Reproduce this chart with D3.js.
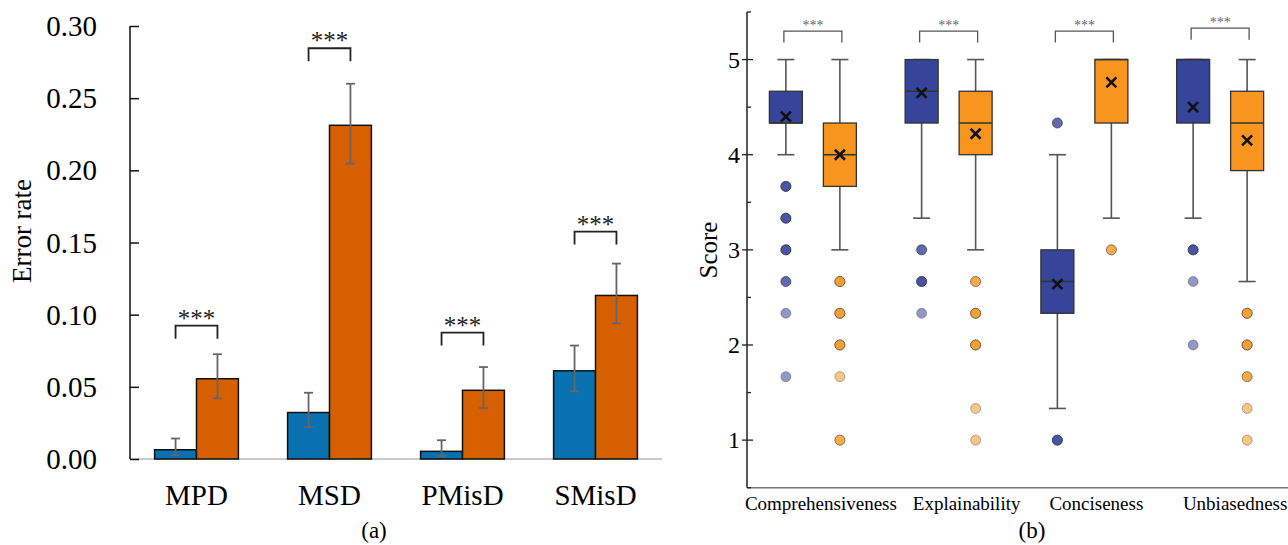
<!DOCTYPE html>
<meta charset="utf-8">
<script src="https://cdn.jsdelivr.net/npm/d3@7/dist/d3.min.js"></script>
<head>
<style>
    body { margin: 0; background: #fff; }
    text { font-family: "Liberation Serif", "Times New Roman", serif; }
</style>
</head>
<body>
<svg id="chart" width="1288" height="545"></svg>
<script>

    // ---- panel (a) data ----
    var catsA = ["MPD", "MSD", "PMisD", "SMisD"];
    var seriesA = ["baseline", "ours"];
    var rateBase = [0.0064, 0.0322, 0.0053, 0.0611];
    var rateOurs = [0.0556, 0.2312, 0.0476, 0.1133];
    var errLowBase = [0.0028, 0.0222, 0.0021, 0.0469];
    var errHighBase = [0.0142, 0.0459, 0.0130, 0.0786];
    var errLowOurs = [0.0421, 0.2047, 0.0353, 0.0940];
    var errHighOurs = [0.0726, 0.2600, 0.0637, 0.1354];
    var sigA = [0.0924, 0.2846, 0.0876, 0.1576]; // bracket level
    var ticksA = [0, 0.05, 0.10, 0.15, 0.20, 0.25, 0.30];

    // ---- panel (b) data ----
    var catsB = ["Comprehensiveness", "Explainability", "Conciseness", "Unbiasedness"];
    var seriesB = ["baseline", "ours"];
    var whiskLo = [[4, 3], [3.333, 3], [1.333, 3.333], [3.333, 2.667]];
    var q1 = [[4.333, 3.667], [4.333, 4], [2.333, 4.333], [4.333, 3.833]];
    var med = [[4.333, 4], [4.667, 4.333], [2.667, 5], [5, 4.333]];
    var q3 = [[4.667, 4.333], [5, 4.667], [3, 5], [5, 4.667]];
    var whiskHi = [[5, 5], [5, 5], [4, 5], [5, 5]];
    var means = [[4.40, 4.00], [4.65, 4.22], [2.64, 4.76], [4.50, 4.15]];
    var outliers = [
        [[3.667, 3.667, 3.667, 3.333, 3.333, 3.333, 3, 3, 3, 2.667, 2.667, 2.333, 1.667],
         [2.667, 2.667, 2.667, 2.333, 2.333, 2.333, 2, 2, 2, 1.667, 1, 1]],
        [[3, 3, 2.667, 2.667, 2.667, 2.333],
         [2.667, 2.667, 2.333, 2.333, 2.333, 2, 2, 2, 1.333, 1]],
        [[4.333, 4.333, 1, 1, 1],
         [3, 3]],
        [[3, 3, 3, 2.667, 2],
         [2.333, 2.333, 2.333, 2, 2, 2, 1.667, 1.667, 1.333, 1]]
    ];
    var sigB = [5.3, 5.3, 5.3, 5.33];
    var ticksB = [1, 2, 3, 4, 5];
    var minorTicksB = [0.5, 1.5, 2.5, 3.5, 4.5, 5.5];

    var colA = { baseline: "#0a71b1", ours: "#d65f00" };
    var colB = { baseline: "#36449a", ours: "#f7951f" };
    var labelShiftB = [8, 18, 12, 15];

    var svg = d3.select("#chart");

    // ================= panel (a) =================
    var yA = d3.scaleLinear().domain([0, 0.3]).range([459, 26]);
    var xA = d3.scaleBand().domain(catsA).range([130, 662])
        .paddingInner(0.37).paddingOuter(0.185);
    var x1A = d3.scaleBand().domain(seriesA).range([0, xA.bandwidth()]);

    var rowsA = catsA.map(function(c, i) {
        return [
            { cat: c, s: "baseline", v: rateBase[i], lo: errLowBase[i], hi: errHighBase[i] },
            { cat: c, s: "ours", v: rateOurs[i], lo: errLowOurs[i], hi: errHighOurs[i] }
        ];
    });
    var barsA = [].concat.apply([], rowsA);

    var gA = svg.append("g");

    // x axis line (light gray)
    gA.append("line")
        .attr("x1", 130).attr("x2", 662)
        .attr("y1", yA(0)).attr("y2", yA(0))
        .style("stroke", "#b8b8b8").style("stroke-width", 1.5);

    gA.selectAll(".barA")
        .data(barsA)
        .enter()
        .append("rect")
        .attr("class", "barA")
        .attr("x", function(d) { return xA(d.cat) + x1A(d.s); })
        .attr("y", function(d) { return yA(d.v); })
        .attr("width", x1A.bandwidth())
        .attr("height", function(d) { return yA(0) - yA(d.v); })
        .style("fill", function(d) { return colA[d.s]; })
        .style("stroke", "#111")
        .style("stroke-width", 1.5);

    var errG = gA.selectAll(".errA")
        .data(barsA)
        .enter()
        .append("g")
        .attr("class", "errA")
        .attr("transform", function(d) {
            return "translate(" + (xA(d.cat) + x1A(d.s) + x1A.bandwidth() / 2) + ",0)";
        })
        .style("stroke", "#666")
        .style("stroke-width", 1.8);
    errG.append("line")
        .attr("x1", 0).attr("x2", 0)
        .attr("y1", function(d) { return yA(d.lo); })
        .attr("y2", function(d) { return yA(d.hi); });
    errG.append("line")
        .attr("x1", -4.5).attr("x2", 4.5)
        .attr("y1", function(d) { return yA(d.lo); })
        .attr("y2", function(d) { return yA(d.lo); });
    errG.append("line")
        .attr("x1", -4.5).attr("x2", 4.5)
        .attr("y1", function(d) { return yA(d.hi); })
        .attr("y2", function(d) { return yA(d.hi); });

    // y axis
    var yAxisA = d3.axisRight(yA).tickValues(ticksA).tickSize(9).tickFormat("");
    var yAxA = gA.append("g")
        .attr("transform", "translate(130,0)")
        .call(yAxisA);
    yAxA.select(".domain").attr("d", "M0," + yA(0.3) + "V" + yA(0))
        .style("stroke", "#111").style("stroke-width", 1.5);
    yAxA.selectAll(".tick line").style("stroke", "#111").style("stroke-width", 1.5);

    gA.selectAll(".tickLabA")
        .data(ticksA)
        .enter()
        .append("text")
        .attr("class", "tickLabA")
        .attr("x", 97)
        .attr("y", function(d) { return yA(d) + 10; })
        .attr("text-anchor", "end")
        .style("font-size", "29px")
        .text(function(d) { return d3.format(".2f")(d); });

    gA.append("text")
        .attr("transform", "translate(31,231) rotate(-90)")
        .attr("text-anchor", "middle")
        .style("font-size", "27px")
        .text("Error rate");

    gA.selectAll(".catA")
        .data(catsA)
        .enter()
        .append("text")
        .attr("class", "catA")
        .attr("x", function(d) { return xA(d) + xA.bandwidth() / 2; })
        .attr("y", 505)
        .attr("text-anchor", "middle")
        .style("font-size", "29px")
        .text(function(d) { return d; });

    // significance brackets
    var sigGA = gA.selectAll(".sigA")
        .data(catsA)
        .enter()
        .append("g")
        .attr("class", "sigA");
    sigGA.append("path")
        .attr("d", function(d, i) {
            var xl = xA(d) + x1A("baseline") + x1A.bandwidth() / 2;
            var xr = xA(d) + x1A("ours") + x1A.bandwidth() / 2;
            var y = yA(sigA[i]);
            return "M" + xl + "," + (y + 13) + "V" + y + "H" + xr + "V" + (y + 13);
        })
        .style("fill", "none").style("stroke", "#222").style("stroke-width", 1.8);
    sigGA.append("text")
        .attr("x", function(d) { return xA(d) + xA.bandwidth() / 2; })
        .attr("y", function(d, i) { return yA(sigA[i]) + 1; })
        .attr("text-anchor", "middle")
        .style("font-size", "25px")
        .style("fill", "#222")
        .text("***");

    gA.append("text")
        .attr("x", 374).attr("y", 538)
        .attr("text-anchor", "middle")
        .style("font-size", "23px")
        .text("(a)");

    // ================= panel (b) =================
    var yB = d3.scaleLinear().domain([0.5, 5.5]).range([487.7, 12]);
    var xB = d3.scaleBand().domain(catsB).range([745, 1288]);
    var x1B = d3.scaleBand().domain(seriesB).range([-54, 54]);
    var boxW = 33;

    var boxes = [];
    catsB.forEach(function(c, i) {
        seriesB.forEach(function(s, j) {
            boxes.push({
                cat: c, s: s, ci: i,
                lo: whiskLo[i][j], q1: q1[i][j], med: med[i][j], q3: q3[i][j],
                hi: whiskHi[i][j], mean: means[i][j], out: outliers[i][j]
            });
        });
    });

    var gB = svg.append("g");

    gB.append("line")
        .attr("x1", 747).attr("x2", 1288)
        .attr("y1", yB(0.5)).attr("y2", yB(0.5))
        .style("stroke", "#777").style("stroke-width", 1.5);

    var bx = gB.selectAll(".boxB")
        .data(boxes)
        .enter()
        .append("g")
        .attr("class", "boxB")
        .attr("transform", function(d) {
            return "translate(" + (xB(d.cat) + xB.bandwidth() / 2 + x1B(d.s) + x1B.bandwidth() / 2) + ",0)";
        });

    // whiskers
    bx.append("line")
        .attr("x1", 0).attr("x2", 0)
        .attr("y1", function(d) { return yB(d.lo); })
        .attr("y2", function(d) { return yB(d.q1); })
        .style("stroke", "#555").style("stroke-width", 1.6);
    bx.append("line")
        .attr("x1", 0).attr("x2", 0)
        .attr("y1", function(d) { return yB(d.q3); })
        .attr("y2", function(d) { return yB(d.hi); })
        .style("stroke", "#555").style("stroke-width", 1.6);
    bx.append("line")
        .attr("x1", -8.5).attr("x2", 8.5)
        .attr("y1", function(d) { return yB(d.lo); })
        .attr("y2", function(d) { return yB(d.lo); })
        .style("stroke", "#555").style("stroke-width", 1.6);
    bx.append("line")
        .attr("x1", -8.5).attr("x2", 8.5)
        .attr("y1", function(d) { return yB(d.hi); })
        .attr("y2", function(d) { return yB(d.hi); })
        .style("stroke", "#555").style("stroke-width", 1.6);

    // box
    bx.append("rect")
        .attr("x", -boxW / 2)
        .attr("width", boxW)
        .attr("y", function(d) { return yB(d.q3); })
        .attr("height", function(d) { return yB(d.q1) - yB(d.q3); })
        .style("fill", function(d) { return colB[d.s]; })
        .style("stroke", "#333").style("stroke-width", 1.3);
    bx.append("line")
        .attr("x1", -boxW / 2).attr("x2", boxW / 2)
        .attr("y1", function(d) { return yB(d.med); })
        .attr("y2", function(d) { return yB(d.med); })
        .style("stroke", "#333").style("stroke-width", 1.5);

    // mean marker
    bx.append("path")
        .attr("d", function(d) {
            var y = yB(d.mean), r = 5;
            return "M" + (-r) + "," + (y - r) + "L" + r + "," + (y + r) +
                   "M" + r + "," + (y - r) + "L" + (-r) + "," + (y + r);
        })
        .style("stroke", "#111").style("stroke-width", 2.6).style("fill", "none");

    // outliers (semi transparent, overlaps get darker)
    bx.selectAll(".outB")
        .data(function(d) { return d.out.map(function(v) { return { v: v, s: d.s }; }); })
        .enter()
        .append("circle")
        .attr("class", "outB")
        .attr("cx", 0)
        .attr("cy", function(d) { return yB(d.v); })
        .attr("r", 5)
        .style("fill", function(d) { return colB[d.s]; })
        .style("fill-opacity", 0.55)
        .style("stroke", "#333")
        .style("stroke-opacity", 0.45)
        .style("stroke-width", 0.8);

    // y axis
    var yAxB = gB.append("g").attr("transform", "translate(747,0)");
    yAxB.append("line")
        .attr("x1", 0).attr("x2", 0)
        .attr("y1", yB(5.5)).attr("y2", yB(0.5))
        .style("stroke", "#222").style("stroke-width", 1.5);
    yAxB.selectAll(".minorB")
        .data(minorTicksB)
        .enter()
        .append("line")
        .attr("class", "minorB")
        .attr("x1", 0).attr("x2", 4)
        .attr("y1", function(d) { return yB(d); })
        .attr("y2", function(d) { return yB(d); })
        .style("stroke", "#222").style("stroke-width", 1.3);
    yAxB.selectAll(".majorB")
        .data(ticksB)
        .enter()
        .append("line")
        .attr("class", "majorB")
        .attr("x1", -5).attr("x2", 6)
        .attr("y1", function(d) { return yB(d); })
        .attr("y2", function(d) { return yB(d); })
        .style("stroke", "#222").style("stroke-width", 1.3);
    yAxB.selectAll(".tickLabB")
        .data(ticksB)
        .enter()
        .append("text")
        .attr("class", "tickLabB")
        .attr("x", -7)
        .attr("y", function(d) { return yB(d) + 8; })
        .attr("text-anchor", "end")
        .style("font-size", "24px")
        .text(function(d) { return d; });

    gB.append("text")
        .attr("transform", "translate(717,250) rotate(-90)")
        .attr("text-anchor", "middle")
        .style("font-size", "25px")
        .text("Score");

    gB.selectAll(".catB")
        .data(catsB)
        .enter()
        .append("text")
        .attr("class", "catB")
        .attr("x", function(d, i) { return xB(d) + xB.bandwidth() / 2 + labelShiftB[i]; })
        .attr("y", 510)
        .attr("text-anchor", "middle")
        .style("font-size", "19px")
        .text(function(d) { return d; });

    var sigGB = gB.selectAll(".sigB")
        .data(catsB)
        .enter()
        .append("g")
        .attr("class", "sigB");
    sigGB.append("path")
        .attr("d", function(d, i) {
            var c = xB(d) + xB.bandwidth() / 2;
            var xl = c + x1B("baseline") + x1B.bandwidth() / 2 - 2;
            var xr = c + x1B("ours") + x1B.bandwidth() / 2 + 2;
            var y = yB(sigB[i]);
            return "M" + xl + "," + (y + 11.5) + "V" + y + "H" + xr + "V" + (y + 11.5);
        })
        .style("fill", "none").style("stroke", "#555").style("stroke-width", 1.3);
    sigGB.append("text")
        .attr("x", function(d) { return xB(d) + xB.bandwidth() / 2; })
        .attr("y", function(d, i) { return yB(sigB[i]) - 1.5; })
        .attr("text-anchor", "middle")
        .style("font-size", "14px")
        .style("fill", "#666")
        .text("***");

    gB.append("text")
        .attr("x", 1032).attr("y", 538)
        .attr("text-anchor", "middle")
        .style("font-size", "23px")
        .text("(b)");

</script>
</body>
